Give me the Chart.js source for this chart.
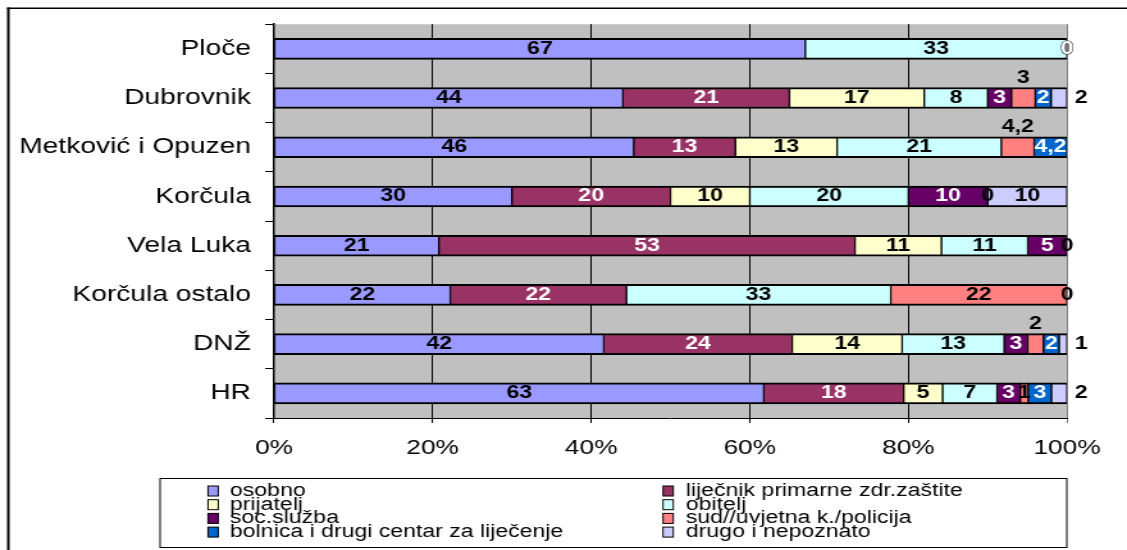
<!DOCTYPE html>
<html>
<head>
<meta charset="utf-8">
<title>Upućivanje na liječenje</title>
<script src="https://cdn.jsdelivr.net/npm/chart.js@4.4.1/dist/chart.umd.min.js"></script>
<style>
  html, body { margin: 0; padding: 0; background: #fff; }
</style>
</head>
<body>
<!-- the original picture is stretched sideways, so the canvas is too -->
<canvas id="chart" width="880" height="550" style="display:block;width:1127px;height:550px"></canvas>
<script>
// Chart data (values as printed on the bars, in %)
var categories = ["Ploče", "Dubrovnik", "Metković i Opuzen", "Korčula", "Vela Luka", "Korčula ostalo", "DNŽ", "HR"];

var seriesNames = [
  "osobno",
  "liječnik primarne zdr.zaštite",
  "prijatelj",
  "obitelj",
  "soc.služba",
  "sud//uvjetna k./policija",
  "bolnica i drugi centar za liječenje",
  "drugo i nepoznato"
];

var osobno    = [67, 44, 46, 30, 21, 22, 42, 63];
var lijecnik  = [null, 21, 13, 20, 53, 22, 24, 18];
var prijatelj = [null, 17, 13, 10, 11, null, 14, 5];
var obitelj   = [33, 8, 21, 20, 11, 33, 13, 7];
var socSluzba = [null, 3, null, 10, 5, null, 3, 3];
var sud       = [null, 3, 4.2, 0, null, 22, 2, 1];
var bolnica   = [0, 2, 4.2, null, null, null, 2, 3];
var drugo     = [null, 2, null, 10, 0, 0, 1, 2];

var percentTicks = ["0%", "20%", "40%", "60%", "80%", "100%"];

var seriesValues = [osobno, lijecnik, prijatelj, obitelj, socSluzba, sud, bolnica, drugo];

// Styles
var seriesColors = ["#9999FF", "#993366", "#FFFFCC", "#CCFFFF", "#660066", "#FF8080", "#0066CC", "#CCCCFF"];
var labelColors  = ["#000", "#fff", "#000", "#000", "#fff", "#000", "#fff", "#000"];
var FONT = "'Liberation Sans', Arial, sans-serif";

// 100% stacked: each row is scaled to its own total
var rowTotals = [];
for (var j = 0; j < categories.length; j++) {
  var t = 0;
  for (var i = 0; i < seriesValues.length; i++) {
    if (seriesValues[i][j] !== null) t += seriesValues[i][j];
  }
  rowTotals.push(t);
}

var datasets = [];
for (var i = 0; i < seriesValues.length; i++) {
  var pct = [];
  for (var j = 0; j < categories.length; j++) {
    var v = seriesValues[i][j];
    pct.push(v === null ? null : v / rowTotals[j] * 100);
  }
  datasets.push({
    label: seriesNames[i],
    data: pct,
    backgroundColor: seriesColors[i],
    borderColor: "#000",
    borderWidth: { top: 2, bottom: 2, left: 1, right: 1 },
    borderSkipped: false,
    barThickness: 21
  });
}

// Gray plot background
var plotBackground = {
  id: "plotBackground",
  beforeDraw: function (chart) {
    var a = chart.chartArea;
    var ctx = chart.ctx;
    ctx.save();
    ctx.fillStyle = "#C0C0C0";
    ctx.fillRect(a.left, a.top, a.right - a.left, a.bottom - a.top);
    ctx.restore();
  }
};

// Value labels on the bars
var barLabels = {
  id: "barLabels",
  afterDatasetsDraw: function (chart) {
    var ctx = chart.ctx;
    ctx.save();
    ctx.font = "bold 18px " + FONT;
    ctx.textAlign = "center";
    ctx.textBaseline = "middle";
    for (var i = 0; i < seriesValues.length; i++) {
      var meta = chart.getDatasetMeta(i);
      for (var j = 0; j < meta.data.length; j++) {
        var v = seriesValues[i][j];
        if (v === null) continue;
        var bar = meta.data[j];
        var x = (bar.x + bar.base) / 2;
        var y = bar.y;
        // small sud values sit above the bar, small "drugo" values right of it
        if (i === 5 && v > 1 && v < 5) y -= 20;
        if (i === 7 && v > 0 && v < 5) x = bar.x + 11;
        var text = String(v).replace(".", ",");
        if (labelColors[i] === "#fff" && v === 0) {
          ctx.lineWidth = 1.2;
          ctx.strokeStyle = "#333";
          ctx.strokeText(text, x, y);
        }
        ctx.fillStyle = labelColors[i];
        ctx.fillText(text, x, y);
      }
    }
    ctx.restore();
  }
};

// Outer frame and the boxed legend
var frameAndLegend = {
  id: "frameAndLegend",
  afterDraw: function (chart) {
    var ctx = chart.ctx;
    ctx.save();
    ctx.fillStyle = "#000";
    ctx.fillRect(5.5, 7.5, chart.width - 5.5, 1.5);
    ctx.fillRect(5.5, 7.5, 2, chart.height - 7.5);

    ctx.strokeStyle = "#000";
    ctx.lineWidth = 1;
    ctx.strokeRect(125, 478.5, 708, 69);

    var swatchX = [162.4, 517.7];
    var textX = [179.6, 535.6];
    ctx.font = "18px " + FONT;
    ctx.textAlign = "left";
    ctx.textBaseline = "middle";
    for (var i = 0; i < seriesNames.length; i++) {
      var col = i % 2;
      var row = Math.floor(i / 2);
      var cy = 491 + row * 13.7;
      ctx.fillStyle = seriesColors[i];
      ctx.fillRect(swatchX[col], cy - 5, 8, 10);
      ctx.strokeStyle = "#000";
      ctx.strokeRect(swatchX[col], cy - 5, 8, 10);
      ctx.fillStyle = "#000";
      ctx.fillText(seriesNames[i], textX[col], cy);
    }
    ctx.restore();
  }
};

new Chart(document.getElementById("chart"), {
  type: "bar",
  data: { labels: categories, datasets: datasets },
  plugins: [plotBackground, barLabels, frameAndLegend],
  options: {
    indexAxis: "y",
    responsive: false,
    devicePixelRatio: 1,
    animation: false,
    layout: { padding: { left: 0, top: 24, right: 46.85, bottom: 82 } },
    plugins: {
      legend: { display: false },
      tooltip: { enabled: false }
    },
    scales: {
      x: {
        stacked: true,
        min: 0,
        max: 100,
        afterFit: function (scale) { scale.height = 50; },
        grid: {
          color: function (c) { return c.tick && c.tick.value === 100 ? "#808080" : "#000"; },
          lineWidth: 1,
          tickLength: 5
        },
        border: { color: "#000", width: 1 },
        ticks: {
          stepSize: 20,
          maxRotation: 0,
          autoSkip: false,
          padding: 13,
          color: "#000",
          font: { family: FONT, size: 20.5 },
          callback: function (value, index) { return percentTicks[index]; }
        }
      },
      y: {
        stacked: true,
        afterFit: function (scale) { scale.width = 213.95; },
        grid: { drawOnChartArea: false, tickLength: 7, color: "#000", lineWidth: 1 },
        border: { color: "#000", width: 1.5 },
        ticks: {
          padding: 11,
          color: "#000",
          font: { family: FONT, size: 22 }
        }
      }
    }
  }
});
</script>
</body>
</html>
